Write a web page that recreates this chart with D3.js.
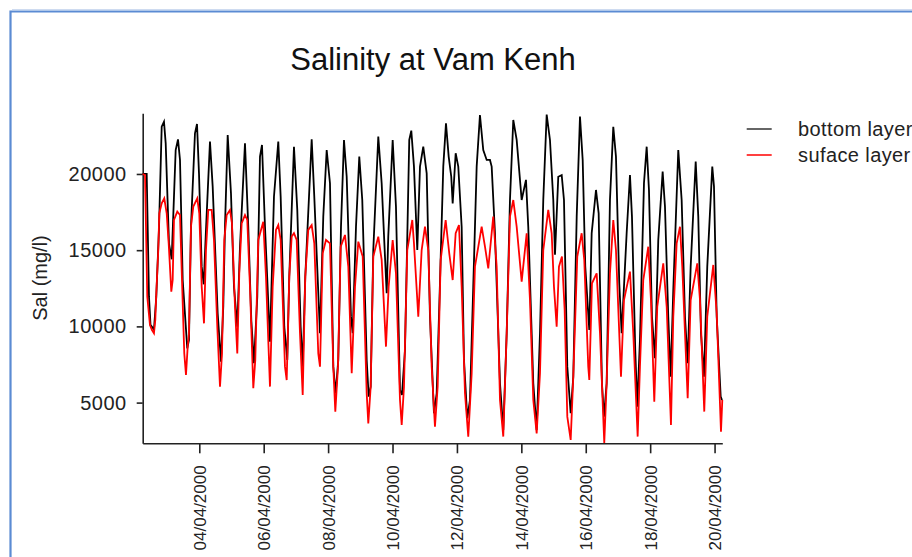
<!DOCTYPE html>
<html><head><meta charset="utf-8">
<script src="https://cdn.jsdelivr.net/npm/d3@7"></script>
<style>
body{margin:0;background:#fff;}
svg{display:block;font-family:"Liberation Sans",Arial,sans-serif;}
</style>
</head><body>
<svg id="c" width="912" height="557"></svg>
<script>
const title = "Salinity at Vam Kenh";
const yLabel = "Sal (mg/l)";
const seriesNames = ["bottom layer", "suface layer"];
const seriesColors = ["#000000", "#ff0000"];
const yTicks = [5000, 10000, 15000, 20000];
const xTickDays = [4, 6, 8, 10, 12, 14, 16, 18, 20];

// time as day of April 2000 (decimal), salinity in mg/l
const bottomDay = [2.243,2.367,2.438,2.485,2.593,2.665,2.749,2.833,2.904,2.957,3.059,3.143,
3.267,3.339,3.401,3.485,3.627,3.680,3.742,3.866,3.929,3.991,
4.075,4.137,4.208,4.332,4.416,4.571,4.674,4.745,4.798,4.882,
4.984,5.077,5.180,5.264,5.419,5.521,5.615,5.698,5.801,5.885,
5.947,6.040,6.195,6.319,6.453,6.527,6.639,6.732,6.794,6.940,
7.043,7.148,7.211,7.291,7.490,7.571,7.748,7.850,7.956,8.058,
8.161,8.235,8.316,8.400,8.493,8.577,8.710,8.763,8.866,8.968,
9.061,9.198,9.260,9.322,9.403,9.558,9.663,9.766,9.819,9.868,
10.005,10.107,10.232,10.294,10.387,10.520,10.583,10.666,10.769,10.853,
10.955,11.061,11.163,11.287,11.371,11.473,11.576,11.660,11.744,11.824,
11.868,11.961,12.042,12.147,12.219,12.321,12.405,12.507,12.613,12.715,
12.818,12.924,13.026,13.079,13.181,13.337,13.439,13.545,13.647,13.750,
13.855,14.010,14.144,14.215,14.371,14.476,14.579,14.681,14.787,14.889,
14.992,15.045,15.147,15.253,15.324,15.427,15.532,15.613,15.719,15.821,
15.905,15.985,16.110,16.184,16.318,16.401,16.503,16.566,16.649,16.752,
16.855,16.938,17.041,17.115,17.270,17.373,17.435,17.537,17.599,17.683,
17.808,17.892,17.963,18.056,18.149,18.252,18.388,18.460,18.562,18.637,
18.718,18.873,18.978,19.081,19.165,19.258,19.414,19.494,19.578,19.671,
19.773,19.929,19.982,20.066,20.190,20.231];
const bottomSal = [20000,20000,11950,10100,9800,11950,16430,23100,23430,22010,15450,14400,
21570,22270,20920,13040,8560,9110,16540,22670,23280,20040,
13920,12760,16330,22120,19170,10860,7690,11300,16540,22560,
18730,12610,9980,15230,22010,16540,10420,7580,11950,21140,
21900,16540,9000,18510,22120,18510,9980,7800,13260,21790,
17640,9980,7360,13260,22270,18510,9550,17200,21570,19390,
7360,5610,7800,16540,22230,19820,10640,9550,16540,21140,
18290,7800,5390,6050,15010,22450,19390,14580,12170,15890,
22230,17860,5830,5500,8450,22230,22840,20480,15010,20480,
21790,20040,10640,4300,5610,12830,20480,23320,21140,19820,
18070,21360,20480,16540,7800,3970,5170,12610,20480,23870,
21570,20920,20920,20480,16110,6270,3200,9550,18290,23540,
22230,18290,19610,16540,6270,3200,9550,18290,23900,22230,
18290,14700,19820,19930,18290,7360,4300,6700,17200,23760,
20920,13920,9760,16110,18950,17420,6270,4080,6270,18290,
23100,21140,12830,9550,16110,19930,17200,8450,4730,9110,
19390,21790,18950,10640,7910,15670,20150,17860,10640,6700,
12390,21570,18290,10640,7580,13920,20810,17200,9550,6700,
13920,20480,19170,10640,5390,5170];

const surfaceDay = [2.243,2.314,2.345,2.385,2.469,2.531,2.593,2.634,2.665,2.727,
2.758,2.833,2.913,2.988,3.050,3.131,3.174,3.214,3.317,3.401,
3.463,3.534,3.587,3.640,3.680,3.742,3.814,3.938,4.000,4.075,
4.146,4.208,4.279,4.385,4.456,4.559,4.643,4.705,4.776,4.851,
4.953,5.015,5.108,5.180,5.242,5.316,5.419,5.490,5.574,5.677,
5.739,5.832,5.987,6.071,6.195,6.279,6.381,6.453,6.527,6.661,
6.714,6.794,6.869,6.940,7.024,7.127,7.211,7.291,7.384,7.490,
7.571,7.695,7.748,7.832,7.934,8.058,8.161,8.224,8.307,8.391,
8.524,8.627,8.733,8.835,8.938,9.074,9.198,9.248,9.322,9.403,
9.558,9.663,9.797,9.880,10.005,10.107,10.232,10.285,10.356,10.458,
10.614,10.666,10.800,10.905,11.008,11.110,11.216,11.318,11.402,11.495,
11.650,11.762,11.868,11.961,12.063,12.147,12.250,12.352,12.458,12.560,
12.768,12.871,12.973,13.128,13.234,13.337,13.439,13.545,13.647,13.750,
13.855,14.010,14.166,14.268,14.371,14.476,14.579,14.681,14.836,14.942,
15.013,15.097,15.168,15.261,15.345,15.427,15.532,15.613,15.737,15.873,
15.954,16.078,16.110,16.193,16.339,16.442,16.575,16.649,16.752,16.855,
16.938,17.094,17.187,17.373,17.476,17.612,17.683,17.786,17.942,18.025,
18.128,18.221,18.407,18.513,18.646,18.718,18.823,18.926,18.997,19.165,
19.258,19.463,19.547,19.680,19.773,19.960,20.066,20.199,20.240];
const surfaceSal = [20000,19930,16540,11950,10090,9760,9550,10420,12170,15010,
17420,18070,18400,17420,15450,12280,13040,16980,17530,17310,
13040,8230,6810,8670,9550,16540,17860,18400,17420,12610,
10200,15010,17640,17640,15670,9980,6050,8230,15670,17310,
17640,16760,11300,8230,13480,16760,17310,16980,12610,5940,
7800,15670,16870,13260,6050,12610,16330,16650,15670,7360,
6480,13260,15890,16110,15670,9550,5500,13260,16330,16650,
15450,8230,7360,14790,15670,15450,7360,4410,7360,15230,
16000,13920,6920,12610,15560,14580,5610,3640,6050,14580,
15890,14360,8670,12610,15670,13480,5170,3530,6050,15010,
16980,15450,10640,15010,16540,15010,7360,3420,6050,14360,
16980,14790,13040,16110,16650,12610,5610,2770,6920,13920,
16540,15230,13810,17200,13920,5170,2770,9550,17200,18290,
16540,12940,16110,11730,5170,2980,6920,15010,17640,16110,
12610,9980,13920,14580,11080,4080,2550,6700,14580,16110,
14360,7360,6480,12830,13480,9550,2350,6270,13480,16980,
15010,6700,11730,13590,9550,2770,7360,13040,15230,11730,
5060,11300,14140,11300,3530,10640,15450,16540,13920,5280,
11730,14140,11730,4410,10640,14030,10860,3090,5170];

const toDate = d => new Date(Date.UTC(2000, 3, 1) + (d - 1) * 864e5);

const svg = d3.select("#c");

// outer frame
svg.append("path").attr("d", "M10.5,557V11.5H912").attr("fill", "none")
  .attr("stroke", "#5b8bd3").attr("stroke-width", 2.2);
svg.append("path").attr("d", "M12,9.6H912").attr("fill", "none")
  .attr("stroke", "#c9d8ef").attr("stroke-width", 1);

const allDays = bottomDay.concat(surfaceDay);
const x = d3.scaleUtc().domain(d3.extent(allDays).map(toDate)).range([142.7, 722.3]);
const y = d3.scaleLinear().domain([2330, 23980]).range([443.3, 113.3]);

// title
svg.append("text").attr("x", 433).attr("y", 70).attr("text-anchor", "middle")
  .attr("font-size", 31).attr("fill", "#111").text(title);

// y axis
const gy = svg.append("g").attr("transform", "translate(142.7,0)")
  .call(d3.axisLeft(y).tickValues(yTicks).tickSize(6).tickSizeOuter(0).tickPadding(10).tickFormat(d3.format("d")));
gy.select(".domain").attr("stroke", "#222").attr("stroke-width", 1.6);
gy.selectAll(".tick line").attr("stroke", "#222").attr("stroke-width", 1.6);
gy.selectAll(".tick text").attr("font-size", 20).attr("fill", "#222")
  .attr("font-family", "Liberation Sans, Arial, sans-serif").style("letter-spacing", "0.5px");

// x axis
const gx = svg.append("g").attr("transform", "translate(0,443.3)")
  .call(d3.axisBottom(x).tickValues(xTickDays.map(toDate)).tickSize(10).tickSizeOuter(0).tickFormat(d3.utcFormat("%d/%m/%Y")));
gx.select(".domain").attr("stroke", "#222").attr("stroke-width", 1.6);
gx.selectAll(".tick line").attr("stroke", "#222").attr("stroke-width", 1.6);
gx.selectAll(".tick text").attr("font-size", 17).attr("fill", "#222")
  .attr("font-family", "Liberation Sans, Arial, sans-serif")
  .attr("transform", "rotate(-90)").attr("text-anchor", "end")
  .attr("x", -22).attr("y", 0).attr("dy", "0.35em");

// y label
svg.append("text").attr("transform", "translate(47,278) rotate(-90)")
  .attr("text-anchor", "middle").attr("font-size", 20).attr("fill", "#222").text(yLabel);

// lines
const series = [
  {days: bottomDay, vals: bottomSal},
  {days: surfaceDay, vals: surfaceSal}
];
const line = d3.line().x(d => x(toDate(d[0]))).y(d => y(d[1]));
series.forEach((s, i) => {
  svg.append("path")
    .datum(s.days.map((d, j) => [d, s.vals[j]]))
    .attr("fill", "none").attr("stroke", seriesColors[i]).attr("stroke-width", 1.8)
    .attr("stroke-linejoin", "miter").attr("d", line);
});

// legend
const lg = svg.append("g");
seriesNames.forEach((n, i) => {
  const ly = 129 + i * 26;
  lg.append("line").attr("x1", 746.7).attr("x2", 771.7).attr("y1", ly).attr("y2", ly)
    .attr("stroke", i === 0 ? "#333" : seriesColors[i]).attr("stroke-width", 1.5);
  lg.append("text").attr("x", 798).attr("y", ly).attr("dy", "0.35em")
    .attr("font-size", 20).attr("fill", "#222").style("letter-spacing", "0.4px").text(n);
});
</script>
</body></html>
